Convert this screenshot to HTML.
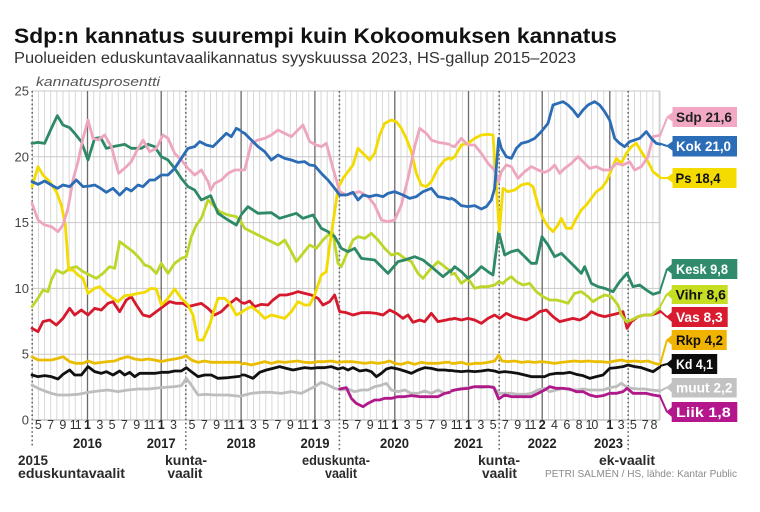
<!DOCTYPE html>
<html><head><meta charset="utf-8"><style>
html,body{margin:0;padding:0;background:#fff;overflow:hidden}
svg{display:block}
text{font-family:"Liberation Sans",Arial,sans-serif}
.ml{font-size:12.5px;fill:#333;text-anchor:middle}
.mb{font-size:12.5px;fill:#222;text-anchor:middle;font-weight:bold}
.yr{font-size:13.5px;fill:#222;text-anchor:middle;font-weight:bold}
.el{font-size:13.5px;fill:#2a2a2a;font-weight:bold}
.ya{font-size:13px;fill:#444;text-anchor:end}
.bx{font-size:14px;font-weight:bold}
.s{fill:none;stroke-width:2.8;stroke-linejoin:round;stroke-linecap:round;vector-effect:non-scaling-stroke}
</style></head><body>
<svg width="760" height="512" viewBox="0 0 760 512" xmlns="http://www.w3.org/2000/svg">
<defs>
<pattern id="vg" x="31.8" y="0" width="6.145" height="10" patternUnits="userSpaceOnUse"><rect x="0" y="0" width="0.9" height="10" fill="#d4d4d4"/></pattern>
<clipPath id="c1"><rect x="30" y="85" width="210.5" height="345"/></clipPath>
<clipPath id="c2"><rect x="240.5" y="85" width="210" height="345"/></clipPath>
<clipPath id="c3"><rect x="450.5" y="85" width="210.5" height="345"/></clipPath>
</defs>
<rect width="760" height="512" fill="#fff"/>

<text x="14" y="43" font-size="21" font-weight="bold" fill="#111" textLength="603" lengthAdjust="spacingAndGlyphs">Sdp:n kannatus suurempi kuin Kokoomuksen kannatus</text>
<text x="14" y="63" font-size="15.5" fill="#333" textLength="562" lengthAdjust="spacingAndGlyphs">Puolueiden eduskuntavaalikannatus syyskuussa 2023, HS-gallup 2015–2023</text>
<text x="36" y="86" font-size="13" font-style="italic" fill="#555" textLength="124" lengthAdjust="spacingAndGlyphs">kannatusprosentti</text>

<!-- grid -->
<rect x="31.8" y="91" width="628" height="329" fill="url(#vg)"/>
<g stroke="#c9c9c9" stroke-width="1">
<line x1="32" y1="91" x2="660" y2="91"/>
<line x1="32" y1="156.8" x2="660" y2="156.8"/>
<line x1="32" y1="222.6" x2="660" y2="222.6"/>
<line x1="32" y1="288.4" x2="660" y2="288.4"/>
<line x1="32" y1="354.2" x2="660" y2="354.2"/>
<line x1="32" y1="420" x2="660" y2="420" stroke="#aaa"/>
<line x1="660" y1="91" x2="660" y2="420"/>
</g>
<g stroke="#6a6a6a" stroke-width="1.3">
<line x1="87.5" y1="91" x2="87.5" y2="420"/>
<line x1="161.2" y1="91" x2="161.2" y2="420"/>
<line x1="241.1" y1="91" x2="241.1" y2="420"/>
<line x1="314.9" y1="91" x2="314.9" y2="420"/>
<line x1="394.8" y1="91" x2="394.8" y2="420"/>
<line x1="468.5" y1="91" x2="468.5" y2="420"/>
<line x1="542.2" y1="91" x2="542.2" y2="420"/>
<line x1="609.8" y1="91" x2="609.8" y2="420"/>
</g>
<g stroke="#666" stroke-width="1.6" stroke-dasharray="1.6,2.6">
<line x1="32.2" y1="91" x2="32.2" y2="448"/>
<line x1="185.8" y1="91" x2="185.8" y2="452"/>
<line x1="339.4" y1="91" x2="339.4" y2="452"/>
<line x1="499.2" y1="91" x2="499.2" y2="452"/>
<line x1="628.2" y1="91" x2="628.2" y2="452"/>
</g>

<!-- y labels -->
<text class="ya" x="29" y="95.5">25</text>
<text class="ya" x="29" y="161.3">20</text>
<text class="ya" x="29" y="227.1">15</text>
<text class="ya" x="29" y="292.9">10</text>
<text class="ya" x="29" y="358.7">5</text>
<text class="ya" x="29" y="424.5">0</text>

<!-- series segment 1 -->
<g clip-path="url(#c1)"><g transform="translate(28 85) scale(0.333333)">
<polyline class="s" stroke="#bdbdbd" points="12,900 30,910 50,918 70,925 90,930 120,930 150,928 180,922 210,918 240,915 270,920 300,915 330,912 360,912 400,908 440,905 460,902 475,880 490,900 510,930 530,928 560,930 600,930 645,935"/>
<polyline class="s" stroke="#111" points="12,870 30,875 50,872 70,875 90,882 105,868 125,855 140,870 160,870 180,845 200,860 220,865 235,860 255,870 275,858 290,870 305,862 320,875 335,865 360,865 380,865 400,862 420,862 440,858 460,858 475,848 490,860 510,875 530,870 550,870 570,880 600,878 645,873"/>
<polyline class="s" stroke="#ebbd00" points="12,815 30,825 50,825 70,825 90,820 105,815 125,830 145,835 165,835 180,828 200,835 220,832 240,830 260,828 280,820 300,815 320,822 340,825 360,822 380,825 400,830 420,825 440,822 460,818 475,812 490,825 510,832 530,828 550,832 580,832 610,832 645,832"/>
<polyline class="s" stroke="#d6192d" points="12,730 30,740 45,710 65,705 85,720 105,700 125,670 140,690 160,675 180,690 200,670 220,675 240,655 255,650 275,680 295,645 310,635 325,660 345,690 365,695 385,680 405,665 425,650 445,655 465,655 480,665 500,660 520,655 540,670 560,690 580,680 600,660 625,640 645,655"/>
<polyline class="s" stroke="#bed62a" points="12,665 30,640 45,615 60,620 70,585 85,555 105,565 125,550 145,545 165,560 185,570 205,580 225,565 245,545 260,550 275,470 295,485 315,500 335,520 350,540 365,545 385,565 400,535 420,565 440,535 460,520 475,515 490,455 505,420 520,400 540,345 555,360 575,380 600,390 625,395 645,420"/>
<polyline class="s" stroke="#2d8966" points="12,175 30,172 50,175 70,130 88,92 105,120 125,128 140,145 160,170 180,225 200,160 218,158 235,190 255,185 290,178 310,190 340,190 360,178 380,185 400,215 420,225 440,250 460,280 480,305 500,315 520,345 548,332 570,385 600,405 625,420 645,380"/>
<polyline class="s" stroke="#f3da00" points="12,305 30,245 45,270 65,290 85,320 100,360 112,420 122,555 135,555 150,570 165,580 180,625 200,610 215,605 235,625 255,640 270,650 290,632 310,630 330,625 350,622 370,610 385,612 400,660 420,640 440,612 460,640 480,660 495,690 510,765 525,765 545,720 560,670 570,640 590,640 605,655 625,690 645,680"/>
<polyline class="s" stroke="#eea6be" points="12,355 30,405 50,420 70,425 90,440 105,420 120,370 135,285 150,230 165,160 180,105 195,160 210,165 230,150 250,185 272,265 295,245 310,230 325,200 345,165 365,200 385,190 405,150 420,160 440,205 460,225 480,250 500,270 520,255 540,290 548,315 560,295 580,285 600,265 620,255 645,255"/>
<polyline class="s" stroke="#2b6cb5" points="12,290 30,298 50,288 70,300 88,310 105,300 125,305 145,285 165,305 185,303 200,300 218,310 235,322 255,310 275,330 295,310 310,318 330,300 345,305 365,285 380,285 400,270 420,270 440,250 460,220 480,190 500,185 515,170 535,180 555,185 575,165 595,145 610,155 625,130 645,140"/>
</g></g>

<!-- series segment 2 -->
<g clip-path="url(#c2)"><g transform="translate(238 85) scale(0.333333)">
<polyline class="s" stroke="#bdbdbd" points="0,935 20,930 40,925 70,922 100,922 130,925 160,920 190,925 210,915 230,905 250,892 270,900 290,910 310,915 330,912 350,920 370,915 390,915 410,905 425,902 445,895 460,915 480,920 500,915 520,925 540,925 560,918 580,925 600,915 620,925 645,920"/>
<polyline class="s" stroke="#b0198a" points="305,912 325,908 340,940 355,955 375,965 390,955 410,945 425,945 440,940 460,940 480,935 500,935 520,932 545,935 565,935 585,935 600,935 620,925 645,920"/>
<polyline class="s" stroke="#111" points="0,870 20,870 45,880 65,862 85,855 105,850 125,845 145,850 165,855 180,852 200,848 220,850 240,848 260,848 280,845 300,852 315,848 330,855 345,848 365,858 385,855 400,860 415,875 430,865 445,852 460,848 480,852 500,858 520,865 540,855 560,848 580,850 600,855 620,855 645,858"/>
<polyline class="s" stroke="#ebbd00" points="0,840 20,835 40,840 60,835 80,830 100,835 120,830 140,832 160,830 180,828 200,832 220,833 240,830 260,830 280,828 300,832 320,830 340,830 360,832 380,835 400,832 420,835 440,832 455,828 470,835 490,838 510,832 530,838 550,832 570,835 600,835 620,832 645,832"/>
<polyline class="s" stroke="#d6192d" points="0,650 20,655 35,648 50,665 70,658 90,660 105,645 125,630 145,630 165,625 180,620 200,625 220,630 240,640 255,660 275,650 290,630 305,680 325,683 345,690 370,683 395,683 415,685 435,690 455,675 475,685 495,700 510,690 525,712 545,705 560,710 580,685 600,710 625,705 645,700"/>
<polyline class="s" stroke="#bed62a" points="0,395 20,430 40,440 60,450 80,460 100,470 120,480 140,465 160,500 175,530 195,505 215,480 235,490 255,465 270,450 285,445 300,535 310,545 325,510 345,465 360,455 380,460 400,445 420,465 440,490 460,510 480,505 500,520 520,530 540,565 555,580 575,555 600,530 620,545 645,565"/>
<polyline class="s" stroke="#2d8966" points="0,400 30,365 60,385 100,383 125,400 175,385 195,400 225,390 250,430 270,440 290,455 310,490 330,500 350,490 370,520 410,525 450,565 480,530 500,525 530,515 555,525 580,545 615,575 645,550"/>
<polyline class="s" stroke="#f3da00" points="0,690 20,675 40,665 60,680 80,700 100,690 120,695 140,700 160,680 180,650 200,660 215,660 230,630 240,600 250,570 265,560 275,480 290,380 300,310 315,280 330,260 345,240 360,190 375,205 395,225 410,205 425,150 440,115 460,105 475,110 490,130 505,160 520,200 535,265 550,300 565,305 580,290 600,250 620,225 645,215"/>
<polyline class="s" stroke="#eea6be" points="0,255 20,255 40,175 60,165 80,160 100,150 120,135 140,145 160,155 175,140 195,120 215,170 235,180 250,185 265,175 285,250 305,320 325,330 345,325 365,320 390,335 410,360 430,405 450,410 470,405 490,360 510,280 530,185 545,130 565,145 580,165 600,172 620,175 645,180"/>
<polyline class="s" stroke="#2b6cb5" points="0,135 20,145 40,165 60,185 80,200 100,225 120,210 140,220 160,225 180,232 200,230 215,240 230,242 250,265 270,285 290,310 305,330 325,330 345,322 360,345 375,330 395,335 415,330 435,335 450,325 470,320 495,330 515,340 535,335 555,320 580,310 600,335 620,338 645,345"/>
</g></g>

<!-- series segment 3 -->
<g clip-path="url(#c3)"><g transform="translate(448 85) scale(0.333333)">
<polyline class="s" stroke="#bdbdbd" points="0,925 20,915 40,910 60,908 80,905 100,908 120,905 135,905 152,925 170,925 190,925 210,928 230,928 250,925 270,915 290,910 305,920 325,915 345,910 365,915 385,915 405,912 425,915 445,915 465,915 485,908 505,905 520,895 535,905 550,910 570,912 590,912 610,915 640,918"/>
<polyline class="s" stroke="#b0198a" points="0,920 20,915 40,912 60,910 80,905 100,905 120,905 138,908 152,942 170,930 190,935 210,935 230,935 250,935 270,925 290,915 305,905 325,910 345,910 365,912 385,920 405,920 425,930 445,935 465,932 485,925 505,925 525,920 537,910 555,925 575,925 595,925 615,930 640,934"/>
<polyline class="s" stroke="#111" points="0,855 20,858 40,860 60,858 80,860 100,858 120,855 140,858 152,862 170,860 190,862 210,865 230,870 250,875 270,875 290,875 305,868 325,865 345,865 365,862 385,868 405,872 425,880 445,875 465,870 485,850 505,848 525,845 540,840 560,845 580,848 600,855 615,860 640,843"/>
<polyline class="s" stroke="#ebbd00" points="0,835 20,835 40,832 60,838 80,835 100,835 120,832 140,828 152,810 162,828 180,830 200,828 220,832 240,830 260,832 280,830 300,832 320,835 340,832 360,830 380,828 400,830 420,828 440,830 460,830 480,832 500,828 520,825 540,830 560,828 580,830 600,828 620,835 640,840"/>
<polyline class="s" stroke="#d6192d" points="0,705 20,700 40,705 60,700 80,705 100,715 120,700 140,690 155,700 175,685 195,695 215,700 235,705 255,695 275,680 295,675 315,695 335,710 355,705 375,700 395,705 415,695 430,680 450,690 470,695 490,690 510,685 525,680 537,730 550,710 570,695 590,690 610,690 625,685 640,678"/>
<polyline class="s" stroke="#bed62a" points="0,570 20,565 40,595 60,580 80,610 100,605 120,605 140,600 152,590 165,595 175,585 190,575 205,590 225,600 245,595 265,620 285,635 305,645 325,645 345,650 360,655 380,625 400,620 420,635 435,650 450,640 470,630 490,635 510,660 520,690 535,710 550,705 570,695 590,690 610,690 640,665"/>
<polyline class="s" stroke="#2d8966" points="0,570 20,545 40,560 60,580 80,565 100,545 120,560 135,570 152,440 170,510 190,500 210,495 230,515 250,535 265,535 282,455 300,480 320,515 340,505 360,525 380,545 400,565 410,545 430,595 450,605 470,610 495,620 515,590 537,565 555,605 575,600 595,615 615,628 640,620"/>
<polyline class="s" stroke="#f3da00" points="0,230 20,215 40,180 60,175 80,160 100,150 120,148 135,150 148,350 154,440 165,310 180,320 200,315 220,300 240,295 255,305 270,360 285,400 300,425 315,440 330,420 340,400 355,430 370,430 385,400 400,375 415,360 430,340 445,320 460,310 475,290 490,255 505,220 520,235 535,205 550,185 565,175 580,200 600,230 615,260 640,280"/>
<polyline class="s" stroke="#eea6be" points="0,180 20,185 40,160 60,180 80,180 100,205 120,235 140,255 152,290 160,260 175,240 190,245 210,280 230,260 250,245 270,255 290,262 305,255 320,240 335,265 350,250 370,235 390,215 410,235 425,250 445,245 465,255 485,255 505,235 525,240 545,230 560,255 580,245 600,215 615,155 640,150"/>
<polyline class="s" stroke="#2b6cb5" points="0,335 20,345 40,362 60,365 80,362 100,372 115,365 130,345 140,310 152,160 160,190 175,215 190,220 205,190 220,175 240,170 260,160 280,140 300,115 315,60 330,55 345,50 360,60 375,75 390,95 405,75 420,60 440,50 455,60 470,80 485,105 500,160 515,175 530,185 545,170 560,165 575,160 595,140 610,160 625,175 640,178"/>
</g></g>

<!-- connectors -->
<g stroke-width="2" fill="none">
<polyline stroke="#eea6be" points="660,135.7 667,118"/>
<polyline stroke="#2b6cb5" points="660,143.6 667,146"/>
<polyline stroke="#f3da00" points="660,177.9 667,178"/>
<polyline stroke="#2d8966" points="660,291 667,269"/>
<polyline stroke="#bed62a" points="660,306.8 667,294"/>
<polyline stroke="#d6192d" points="660,310.8 667,317"/>
<polyline stroke="#ebbd00" points="660,364.7 667,340"/>
<polyline stroke="#111" points="660,366 667,364"/>
<polyline stroke="#bdbdbd" points="660,391 667,387.5"/>
<polyline stroke="#b0198a" points="660,396.3 667,412"/>
</g>

<!-- legend boxes -->
<g>
<polygon points="666,117 673,112 673,122" fill="#f2a8c4"/><rect x="672.5" y="107" width="64.5" height="20" fill="#f2a8c4"/>
<text class="bx" x="676" y="122" fill="#222" textLength="56" lengthAdjust="spacingAndGlyphs">Sdp 21,6</text>
<polygon points="666,146 673,141 673,151" fill="#2c6db8"/><rect x="672.5" y="136" width="64.5" height="20.5" fill="#2c6db8"/>
<text class="bx" x="676" y="151" fill="#fff" textLength="55" lengthAdjust="spacingAndGlyphs">Kok 21,0</text>
<polygon points="666,178 673,173 673,183" fill="#f5dc00"/><rect x="672.5" y="168" width="64" height="20" fill="#f5dc00"/>
<text class="bx" x="675.5" y="183" fill="#111" textLength="45" lengthAdjust="spacingAndGlyphs">Ps 18,4</text>

<polygon points="666,269 672,264 672,274" fill="#2f8b6b"/><rect x="671.7" y="259" width="65.6" height="20" fill="#2f8b6b"/>
<text class="bx" x="676" y="274" fill="#fff" textLength="52" lengthAdjust="spacingAndGlyphs">Kesk 9,8</text>
<polygon points="666,294 672,289 672,299" fill="#c6dd22"/><rect x="671.7" y="285" width="56" height="19" fill="#c6dd22"/>
<text class="bx" x="675.5" y="299.5" fill="#111" textLength="50.5" lengthAdjust="spacingAndGlyphs">Vihr 8,6</text>
<polygon points="666,317 672,312 672,322" fill="#d81b2f"/><rect x="671.7" y="307" width="56" height="20" fill="#d81b2f"/>
<text class="bx" x="676" y="322" fill="#fff" textLength="46.7" lengthAdjust="spacingAndGlyphs">Vas 8,3</text>
<polygon points="666,340 672,335 672,345" fill="#f0b400"/><rect x="671.7" y="330" width="55" height="20" fill="#f0b400"/>
<text class="bx" x="676" y="345" fill="#111" textLength="47" lengthAdjust="spacingAndGlyphs">Rkp 4,2</text>
<polygon points="666,364 672,359 672,369" fill="#0d0d0d"/><rect x="671.7" y="354" width="45.5" height="20" fill="#0d0d0d"/>
<text class="bx" x="676" y="369" fill="#fff" textLength="37" lengthAdjust="spacingAndGlyphs">Kd 4,1</text>
<polygon points="666,387.5 672,382.5 672,392.5" fill="#c2c2c2"/><rect x="671.7" y="378" width="65" height="19.5" fill="#c2c2c2"/>
<text class="bx" x="676" y="392.5" fill="#fff" textLength="56.5" lengthAdjust="spacingAndGlyphs">muut 2,2</text>
<polygon points="666,412 672,407 672,417" fill="#b3178b"/><rect x="671.7" y="402" width="65.6" height="20" fill="#b3178b"/>
<text class="bx" x="676" y="417" fill="#fff" textLength="54.7" lengthAdjust="spacingAndGlyphs">Liik 1,8</text>
</g>

<!-- month labels -->
<g>
<text class="ml" x="38.3" y="429">5</text><text class="ml" x="50.6" y="429">7</text><text class="ml" x="62.9" y="429">9</text><text class="ml" x="75.2" y="429" letter-spacing="-1">11</text>
<text class="mb" x="87.5" y="429">1</text><text class="ml" x="99.8" y="429">3</text><text class="ml" x="112.1" y="429">5</text><text class="ml" x="124.4" y="429">7</text><text class="ml" x="136.7" y="429">9</text><text class="ml" x="149" y="429" letter-spacing="-1">11</text>
<text class="mb" x="161.2" y="429">1</text><text class="ml" x="173.5" y="429">3</text><text class="ml" x="192" y="429">5</text><text class="ml" x="204.3" y="429">7</text><text class="ml" x="216.6" y="429">9</text><text class="ml" x="228.8" y="429" letter-spacing="-1">11</text>
<text class="mb" x="241.1" y="429">1</text><text class="ml" x="253.4" y="429">3</text><text class="ml" x="265.7" y="429">5</text><text class="ml" x="278" y="429">7</text><text class="ml" x="290.3" y="429">9</text><text class="ml" x="302.6" y="429" letter-spacing="-1">11</text>
<text class="mb" x="314.9" y="429">1</text><text class="ml" x="327.2" y="429">3</text><text class="ml" x="345.6" y="429">5</text><text class="ml" x="357.9" y="429">7</text><text class="ml" x="370.2" y="429">9</text><text class="ml" x="382.5" y="429" letter-spacing="-1">11</text>
<text class="mb" x="394.8" y="429">1</text><text class="ml" x="407.1" y="429">3</text><text class="ml" x="419.3" y="429">5</text><text class="ml" x="431.6" y="429">7</text><text class="ml" x="443.9" y="429">9</text><text class="ml" x="456.2" y="429" letter-spacing="-1">11</text>
<text class="mb" x="468.5" y="429">1</text><text class="ml" x="480.8" y="429">3</text><text class="ml" x="493.1" y="429">5</text><text class="ml" x="505.4" y="429">7</text><text class="ml" x="517.7" y="429">9</text><text class="ml" x="530" y="429" letter-spacing="-1">11</text>
<text class="mb" x="542.2" y="429">2</text><text class="ml" x="554.5" y="429">4</text><text class="ml" x="566.8" y="429">6</text><text class="ml" x="579.1" y="429">8</text><text class="ml" x="591.4" y="429" letter-spacing="-1">10</text>
<text class="mb" x="609.8" y="429">1</text><text class="ml" x="621.1" y="429">3</text><text class="ml" x="633.4" y="429">5</text><text class="ml" x="645.2" y="429">7</text><text class="ml" x="654" y="429">8</text>
</g>

<!-- year labels -->
<g>
<text class="yr" x="87.5" y="448" textLength="29" lengthAdjust="spacingAndGlyphs">2016</text>
<text class="yr" x="161.2" y="448" textLength="29" lengthAdjust="spacingAndGlyphs">2017</text>
<text class="yr" x="241.1" y="448" textLength="29" lengthAdjust="spacingAndGlyphs">2018</text>
<text class="yr" x="315" y="448" textLength="29" lengthAdjust="spacingAndGlyphs">2019</text>
<text class="yr" x="394.5" y="448" textLength="29" lengthAdjust="spacingAndGlyphs">2020</text>
<text class="yr" x="468.5" y="448" textLength="29" lengthAdjust="spacingAndGlyphs">2021</text>
<text class="yr" x="542.2" y="448" textLength="29" lengthAdjust="spacingAndGlyphs">2022</text>
<text class="yr" x="608.5" y="448" textLength="29" lengthAdjust="spacingAndGlyphs">2023</text>
</g>

<!-- election labels -->
<g>
<text class="el" x="18" y="465" textLength="30" lengthAdjust="spacingAndGlyphs">2015</text>
<text class="el" x="18" y="478" textLength="107" lengthAdjust="spacingAndGlyphs">eduskuntavaalit</text>
<text class="el" x="165" y="465" textLength="42" lengthAdjust="spacingAndGlyphs">kunta-</text>
<text class="el" x="167.5" y="478" textLength="35" lengthAdjust="spacingAndGlyphs">vaalit</text>
<text class="el" x="302" y="465" textLength="68" lengthAdjust="spacingAndGlyphs">eduskunta-</text>
<text class="el" x="325" y="478" textLength="32" lengthAdjust="spacingAndGlyphs">vaalit</text>
<text class="el" x="478" y="465" textLength="42" lengthAdjust="spacingAndGlyphs">kunta-</text>
<text class="el" x="482" y="478" textLength="35" lengthAdjust="spacingAndGlyphs">vaalit</text>
<text class="el" x="599" y="465" textLength="56" lengthAdjust="spacingAndGlyphs">ek-vaalit</text>
<text x="545" y="477" font-size="10.5" fill="#8a8a8a" textLength="192" lengthAdjust="spacingAndGlyphs">PETRI SALMÉN / HS, lähde: Kantar Public</text>
</g>
</svg>
</body></html>
